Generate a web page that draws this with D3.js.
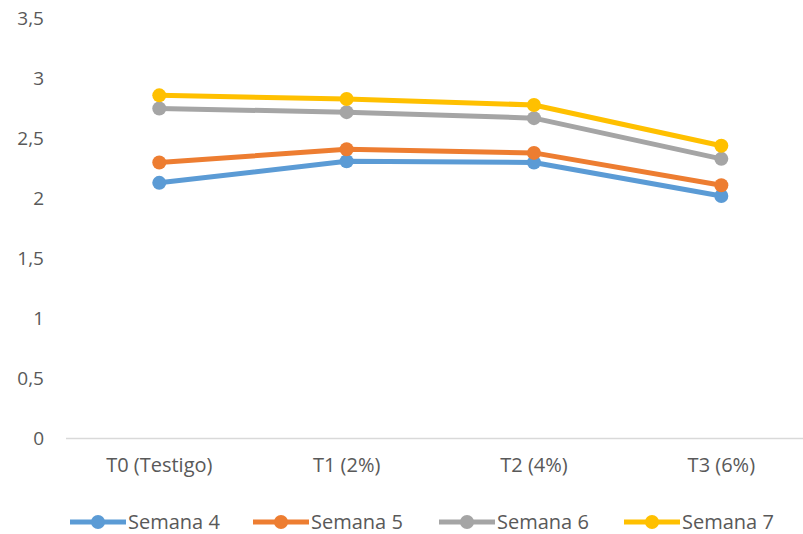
<!DOCTYPE html>
<html><head><meta charset="utf-8">
<script src="https://cdn.jsdelivr.net/npm/d3@7"></script>
<style>body{margin:0;background:#fff}svg{display:block}text{font-family:"Open Sans",sans-serif;fill:#595959}</style>
</head><body><svg id="c" width="803" height="534"></svg>
<script>
const categories = ["T0 (Testigo)", "T1 (2%)", "T2 (4%)", "T3 (6%)"];
const seriesNames = ["Semana 4", "Semana 5", "Semana 6", "Semana 7"];
const semana4 = [2.13, 2.31, 2.30, 2.02];
const semana5 = [2.30, 2.41, 2.38, 2.11];
const semana6 = [2.75, 2.72, 2.67, 2.33];
const semana7 = [2.86, 2.83, 2.78, 2.44];
const colors = ["#5b9bd5", "#ed7d31", "#a5a5a5", "#ffc000"];
const yTicks = [0, 0.5, 1, 1.5, 2, 2.5, 3, 3.5];

const series = [semana4, semana5, semana6, semana7];
const svg = d3.select("#c");
const x = d3.scaleBand().domain(categories).range([65.6, 815]);
const y = d3.scaleLinear().domain([0, 3.5]).range([438, 18.7]);
const fmt = d => String(d).replace(".", ",");

// y labels
const ya = svg.append("g").attr("transform", "translate(44,0)")
  .call(d3.axisLeft(y).tickValues(yTicks).tickSize(0).tickPadding(0).tickFormat(fmt));
ya.select(".domain").remove();
ya.selectAll("text").attr("font-size", 19);

// x axis
const xa = svg.append("g").attr("transform", "translate(0,438)")
  .call(d3.axisBottom(x).tickSize(0).tickPadding(20));
xa.select(".domain").attr("stroke", "#d9d9d9").attr("stroke-width", 1.3).attr("d", "M66,0.5H803");
xa.selectAll("text").attr("font-size", 20);

const cx = c => x(c) + x.bandwidth() / 2;
const line = d3.line().x((d, i) => cx(categories[i])).y(d => y(d));
series.forEach((s, k) => {
  svg.append("path").datum(s).attr("d", line).attr("fill", "none")
    .attr("stroke", colors[k]).attr("stroke-width", 5).attr("stroke-linejoin", "round");
  svg.selectAll(null).data(s).enter().append("circle")
    .attr("cx", (d, i) => cx(categories[i])).attr("cy", d => y(d)).attr("r", 7)
    .attr("fill", colors[k]);
});

// legend
const legX = [70, 253, 439, 624];
const lg = svg.append("g");
seriesNames.forEach((n, k) => {
  const g = lg.append("g").attr("transform", `translate(${legX[k]},522)`);
  g.append("line").attr("x1", 0).attr("x2", 56).attr("stroke", colors[k]).attr("stroke-width", 5);
  g.append("circle").attr("cx", 28).attr("r", 7).attr("fill", colors[k]);
  g.append("text").attr("x", 58).attr("dy", "0.35em").attr("font-size", 20).text(n);
});
</script></body></html>
